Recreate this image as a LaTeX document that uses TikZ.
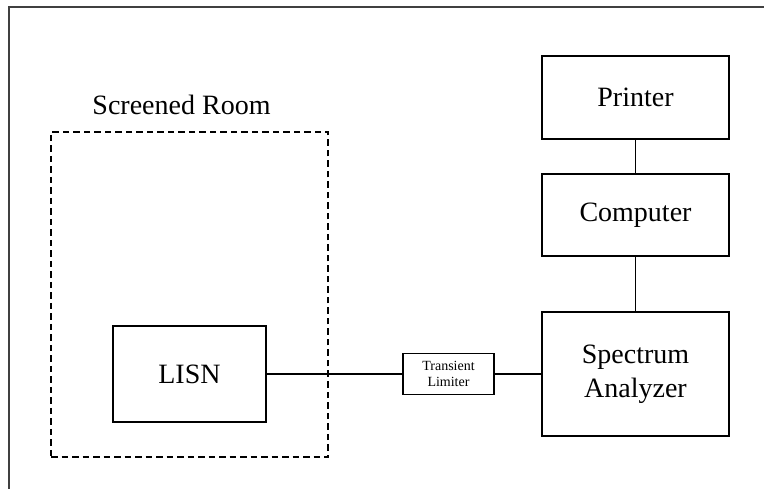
\documentclass[tikz,border=0pt]{standalone}
\usepackage{fontspec}
\setmainfont{Liberation Serif}
\usetikzlibrary{positioning}

\begin{document}
\begin{tikzpicture}[
    x=1pt, y=-1pt,
    unit/.style={rectangle, draw, line width=1.1pt, inner sep=0pt, align=center, font=\fontsize{28}{34}\selectfont, minimum width=187pt},
    small/.style={rectangle, draw, line width=1.1pt, inner sep=0pt, align=center, font=\fontsize{14}{16}\selectfont, minimum width=91pt, minimum height=41pt},
    room/.style={rectangle, draw, line width=1.1pt, dash pattern=on 6.5pt off 4pt, minimum width=277pt, minimum height=325pt},
    wire/.style={line width=1.1pt}
]

% Page size and frame
\useasboundingbox (0,0) rectangle (764,489);
\draw[line width=1.1pt, black!75] (9,489) -- (9,7) -- (764,7);

% Screened room
\node[room] (room) at (189.5,294.5) {};
\node[font=\fontsize{28}{34}\selectfont, anchor=base] (roomlabel) at (181.5,115) {Screened Room};

% LISN inside the room
\node[unit, minimum width=153pt, minimum height=96pt] (lisn) at (189.5,374) {LISN};

% Transient limiter
\node[small] (limiter) at (448.5,374) {Transient\\Limiter};

% Right column
\node[unit, minimum height=124pt] (analyzer) at (635.5,374) {Spectrum\\Analyzer};
\node[unit, minimum height=82pt] (computer) at (635.5,215) {Computer};
\node[unit, minimum height=83pt] (printer) at (635.5,97.5) {Printer};

% Connections
\draw[wire] (lisn) -- (limiter);
\draw[wire] (limiter) -- (analyzer);
\draw[wire] (analyzer) -- (computer);
\draw[wire] (computer) -- (printer);

\end{tikzpicture}
\end{document}
